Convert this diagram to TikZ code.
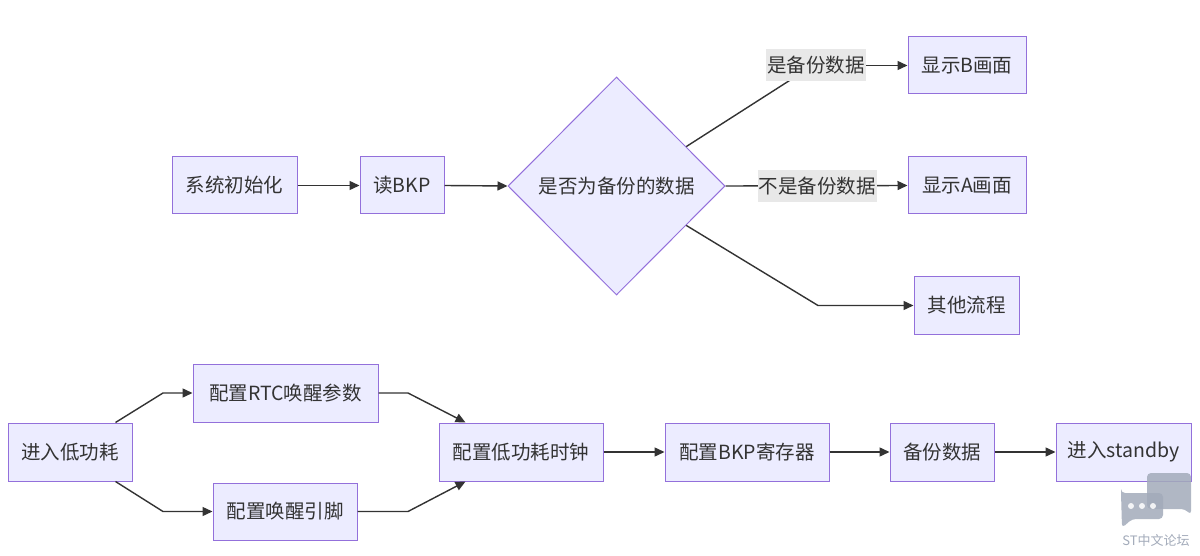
\documentclass[tikz,border=0pt]{standalone}
\usepackage{fontspec}
\setmainfont{Noto Sans CJK SC}
\usetikzlibrary{shapes.geometric,arrows.meta,calc}
\definecolor{nodefill}{HTML}{ECECFF}
\definecolor{nodeborder}{HTML}{9370DB}
\definecolor{linec}{HTML}{333333}
\definecolor{labbg}{HTML}{E8E8E8}
\definecolor{wm}{HTML}{A3ABBA}
\begin{document}
\begin{tikzpicture}[x=1pt,y=-1pt,
  box/.style={draw=nodeborder, fill=nodefill, line width=1pt, minimum height=57pt,
    inner sep=0pt, text=linec, font=\fontsize{19.5}{23}\selectfont},
  decision/.style={diamond, draw=nodeborder, fill=nodefill, line width=1pt, aspect=1,
    inner sep=0pt, text=linec, font=\fontsize{19.5}{23}\selectfont},
  lab/.style={fill=labbg, inner xsep=1pt, inner ysep=0pt, minimum height=32pt,
    text=linec, font=\fontsize{19.5}{23}\selectfont},
  link/.style={draw=linec, line width=1.4pt, -{Triangle[length=10pt,width=9pt]}},
  plain/.style={draw=linec, line width=1.4pt},
  wmark/.style={fill=wm, draw=none}]
\useasboundingbox (0,0) rectangle (1200,556);
\fill[white] (0,0) rectangle (1200,556);

% top row
\node[box, minimum width=125pt] (init) at (234.5,185.5) {系统初始化};
\node[box, minimum width=84pt] (bkp) at (402,185.5) {读BKP};
\node[decision, minimum width=217pt, minimum height=218pt] (dia) at (616.5,186) {是否为备份的数据};
\node[box, minimum width=118pt] (B) at (967,65.5) {显示B画面};
\node[box, minimum width=118pt] (A) at (967,185.5) {显示A画面};
\node[box, minimum width=105pt] (oth) at (966.5,305.5) {其他流程};

\draw[link] (init.east) -- (bkp.west);
\draw[link] (bkp.east) -- (dia.west);

\coordinate (d1) at ($(dia.north)!0.64!(dia.east)$);
\coordinate (d3) at ($(dia.south)!0.64!(dia.east)$);
\coordinate (k1) at (813,65.5);
\coordinate (k3) at (818,305.5);

\draw[plain] (d1) -- (k1);
\draw[link] (k1) -- (B.west);
\node[lab] (l1) at (816,65.5) {是备份数据};

\draw[link] (dia.east) -- (A.west);
\node[lab] (l2) at (817,186) {不是备份数据};

\draw[link] (d3) -- (k3) -- (oth.west);

% bottom row
\node[box, minimum width=124pt, minimum height=58pt] (low) at (70,452) {进入低功耗};
\node[box, minimum width=185pt, minimum height=58pt] (rtc) at (285.5,393) {配置RTC唤醒参数};
\node[box, minimum width=144pt] (pin) at (285,511.5) {配置唤醒引脚};
\node[box, minimum width=164pt, minimum height=58pt] (clk) at (521,452) {配置低功耗时钟};
\node[box, minimum width=164pt, minimum height=58pt] (reg) at (747,452) {配置BKP寄存器};
\node[box, minimum width=104pt, minimum height=58pt] (bak) at (942,452) {备份数据};
\node[box, minimum width=135pt, minimum height=58pt] (stb) at (1123.5,452) {进入standby};

\coordinate (s1) at ($(low.north east)+(-17,0)$);
\coordinate (s2) at ($(low.south east)+(-17,0)$);
\coordinate (b1) at (163,393);
\coordinate (b2) at (163,511.5);
\coordinate (b3) at (408,393);
\coordinate (b4) at (408,511.5);
\coordinate (t1) at ($(clk.north west)+(27,0)$);
\coordinate (t2) at ($(clk.south west)+(27,0)$);

\draw[link] (s1) -- (b1) -- (rtc.west);
\draw[link] (s2) -- (b2) -- (pin.west);
\draw[link] (rtc.east) -- (b3) -- (t1);
\draw[link] (pin.east) -- (b4) -- (t2);
\draw[link] (clk.east) -- (reg.west);
\draw[link] (reg.east) -- (bak.west);
\draw[link] (bak.east) -- (stb.west);

% watermark
\begin{scope}[opacity=0.85]
\fill[wmark, rounded corners=4pt] (1147,473) -- (1191,473) -- (1191,515) -- (1185,509) -- (1147,509) -- cycle;
\fill[wmark, rounded corners=4pt] (1121,493) -- (1163,493) -- (1163,519) -- (1132,519) -- (1122,528) -- (1121,493) -- cycle;
\fill[white] (1131,506) circle (3pt) (1142,506) circle (3pt) (1153,506) circle (3pt);
\end{scope}
\node[text=wm, font=\fontsize{13}{15}\selectfont, inner sep=0pt] (wmt) at (1156,541) {ST中文论坛};
\end{tikzpicture}
\end{document}
